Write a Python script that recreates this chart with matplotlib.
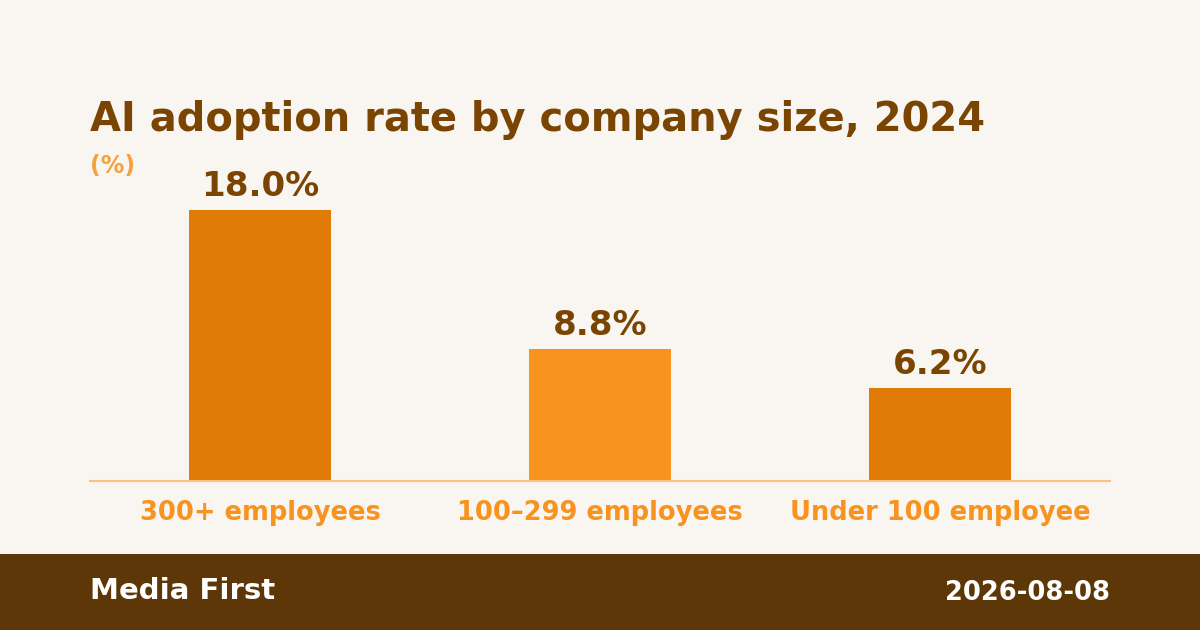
import matplotlib.pyplot as plt
from matplotlib.patches import Rectangle

plt.rcParams['font.family'] = ['DejaVu Sans']

categories = ['300+ employees', '100–299 employees', 'Under 100 employee']
values = [18.0, 8.8, 6.2]
bar_colors = ['#E07B08', '#F7931E', '#E07B08']

bg = '#F9F6F2'
W, H = 1200, 630

fig = plt.figure(figsize=(12, 6.3), dpi=100, facecolor=bg)
ax = fig.add_axes([90 / W, (H - 481) / H, 1020 / W, 301 / H])
ax.set_facecolor(bg)

x = range(len(categories))
bars = ax.bar(x, values, width=0.415, color=bar_colors, zorder=2)
ax.set_xlim(-0.5, 2.5)
ax.set_ylim(0, 20)

for b, v in zip(bars, values):
    ax.annotate(f'{v:.1f}%', (b.get_x() + b.get_width() / 2, v),
                xytext=(0, 5), textcoords='offset points',
                ha='center', va='bottom', fontsize=24.5, fontweight='bold',
                color='#7A4403', clip_on=False)

for s in ['top', 'right', 'left']:
    ax.spines[s].set_visible(False)
ax.spines['bottom'].set_color('#FFC080')
ax.spines['bottom'].set_linewidth(1.5)
ax.set_yticks([])
ax.set_xticks(list(x))
ax.set_xticklabels(categories, fontsize=18.5, fontweight='bold', color='#F7931E')
ax.tick_params(axis='x', length=0, pad=14)

fig.text(90 / W, 1 - 131 / H, 'AI adoption rate by company size, 2024',
         fontsize=28.8, fontweight='bold', color='#7A4403', va='baseline', ha='left')
fig.text(90 / W, 1 - 166 / H, '(%)', fontsize=17, fontweight='bold',
         color='#F7A040', va='center', ha='left')

# footer band
fig.patches.append(Rectangle((0, 0), 1, 76 / H, transform=fig.transFigure,
                             facecolor='#5E3709', edgecolor='none', zorder=0))
fig.text(90 / W, 1 - 591 / H, 'Media First', fontsize=21, fontweight='bold',
         color='white', va='center', ha='left')
fig.text(1110 / W, 1 - 593 / H, '2026-08-08', fontsize=18.5, fontweight='bold',
         color='white', va='center', ha='right')

fig.savefig('out.png', dpi=100, facecolor=bg)
